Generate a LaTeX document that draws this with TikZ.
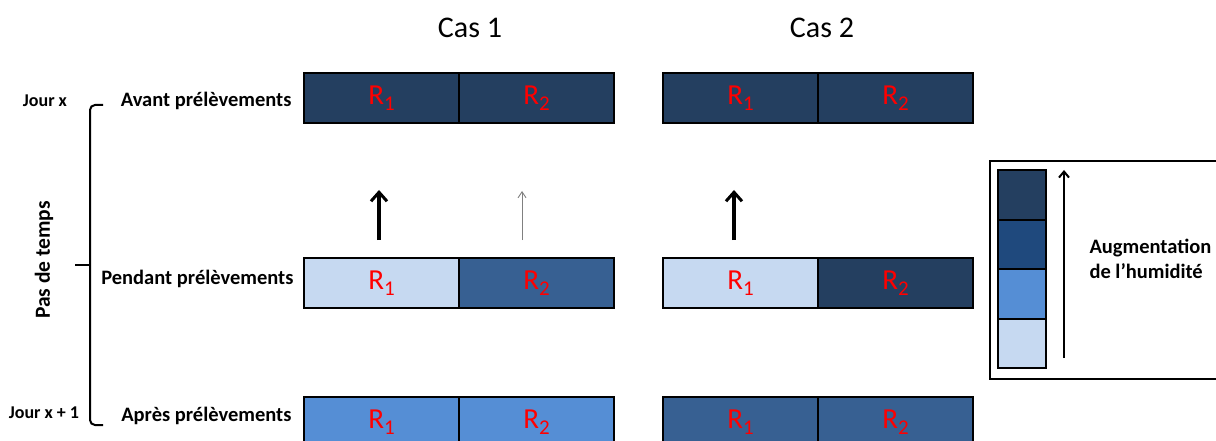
\documentclass[tikz,border=0pt]{standalone}
\usepackage{fontspec}
\setmainfont{Carlito}
\usetikzlibrary{positioning,arrows.meta,calc}

\definecolor{navy}{HTML}{243F60}
\definecolor{deepblue}{HTML}{1F497D}
\definecolor{midblue}{HTML}{376092}
\definecolor{skyblue}{HTML}{558ED5}
\definecolor{paleblue}{HTML}{C6D9F1}

\newcommand{\Rsub}[1]{R\raisebox{-0.45ex}{\fontsize{21}{21}\selectfont #1}}

\begin{document}
\begin{tikzpicture}[
  x=1pt, y=-1pt,
  cell/.style={draw=black, line width=2.5pt, outer sep=0pt, minimum width=155pt,
               minimum height=50pt, inner sep=0pt, text=red, font=\fontsize{29}{32}\selectfont},
  swatch/.style={draw=black, line width=2pt, outer sep=0pt, minimum width=48pt,
                 minimum height=49.5pt, inner sep=0pt},
  rowlbl/.style={anchor=east, font=\bfseries\fontsize{20.5}{23}\selectfont},
  daylbl/.style={font=\bfseries\fontsize{18}{20}\selectfont},
  caslbl/.style={font=\fontsize{30}{34}\selectfont},
  bigup/.style={-{Straight Barb[length=9pt,width=16pt,line width=3pt]}, line width=4pt, black},
  thinup/.style={-{Straight Barb[length=6pt,width=8pt]}, line width=0.9pt, black!50},
  brace/.style={line width=2pt, rounded corners=5pt},
]
\clip (0,0) rectangle (1216,441);
\useasboundingbox (0,0) rectangle (1216,441);

%% ---------- column titles ----------
\node[caslbl] (cas1) at (470,28) {Cas 1};
\node[caslbl] (cas2) at (822,28) {Cas 2};

%% ---------- row labels and time step ----------
\node[rowlbl] (avant) at (295,101) {Avant prélèvements};
\node[rowlbl] (pendant) at (297,279) {Pendant prélèvements};
\node[rowlbl] (apres) at (295,416) {Après prélèvements};

\node[daylbl] (jx) at (45,101) {Jour x};
\node[daylbl] (jx1) at (44,413) {Jour x + 1};
\node[rotate=90, font=\bfseries\fontsize{21.5}{24}\selectfont] (pas) at (44,260) {Pas de temps};

\coordinate (bt) at (103,105);
\coordinate (bt0) at (90,105);
\coordinate (bb0) at (90,425);
\coordinate (bb) at (103,425);
\coordinate (bm) at (90,265);
\coordinate (bm0) at (75,265);
\draw[brace] (bt) -- (bt0) -- (bb0) -- (bb);
\draw[brace] (bm) -- (bm0);

%% ---------- row 1: avant ----------
\node[cell, fill=navy, anchor=north west] (a11) at (304,73) {\Rsub{1}};
\node[cell, fill=navy, right=0pt of a11] (a12) {\Rsub{2}};
\node[cell, fill=navy, anchor=north west] (a21) at (663,73) {\Rsub{1}};
\node[cell, fill=navy, right=0pt of a21] (a22) {\Rsub{2}};

%% ---------- row 2: pendant ----------
\node[cell, fill=paleblue, anchor=north west] (p11) at (304,258) {\Rsub{1}};
\node[cell, fill=midblue, right=0pt of p11] (p12) {\Rsub{2}};
\node[cell, fill=paleblue, anchor=north west] (p21) at (663,258) {\Rsub{1}};
\node[cell, fill=navy, right=0pt of p21] (p22) {\Rsub{2}};

%% ---------- row 3: apres ----------
\node[cell, fill=skyblue, anchor=north west] (q11) at (304,397) {\Rsub{1}};
\node[cell, fill=skyblue, right=0pt of q11] (q12) {\Rsub{2}};
\node[cell, fill=midblue, anchor=north west] (q21) at (663,397) {\Rsub{1}};
\node[cell, fill=midblue, right=0pt of q21] (q22) {\Rsub{2}};

%% ---------- upward arrows ----------
\coordinate (u1) at (379,240);  \coordinate (v1) at (379,190);
\coordinate (u2) at (522,240);  \coordinate (v2) at (522,191);
\coordinate (u3) at (734,240);  \coordinate (v3) at (734,190);
\draw[bigup] (u1) -- (v1);
\draw[thinup] (u2) -- (v2);
\draw[bigup] (u3) -- (v3);

%% ---------- legend ----------
\node[draw=black, line width=2pt, minimum width=240pt, minimum height=218pt,
      anchor=north west] (legend) at (989,160) {};
\node[swatch, fill=navy, anchor=north west] (lg1) at (998,170) {};
\node[swatch, fill=deepblue, below=0pt of lg1] (lg2) {};
\node[swatch, fill=skyblue, below=0pt of lg2] (lg3) {};
\node[swatch, fill=paleblue, below=0pt of lg3] (lg4) {};

\coordinate (lgb) at (1064,358);
\coordinate (lgt) at (1064,170);
\draw[-{Straight Barb[length=6pt,width=10pt,line width=2pt]}, line width=2pt] (lgb) -- (lgt);

\node[anchor=west, align=left, font=\bfseries\fontsize{20.5}{25}\selectfont] (hum) at (1086,259)
  {Augmentation\\de l’humidité};

\end{tikzpicture}
\end{document}
